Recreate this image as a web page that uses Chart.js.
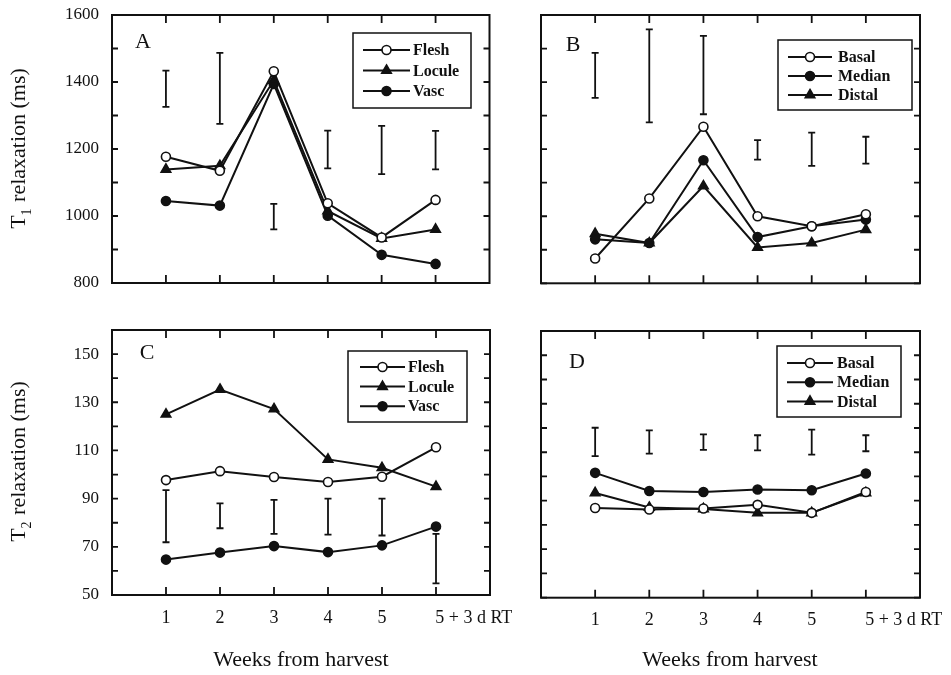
<!DOCTYPE html>
<html><head><meta charset="utf-8">
<script src="https://cdn.jsdelivr.net/npm/chart.js@4.4.1/dist/chart.umd.min.js"></script>
<style>
html,body{margin:0;padding:0;background:#fff;}
#wrap{position:relative;width:951px;height:675px;overflow:hidden;background:#fff;}
canvas{position:absolute;}
</style></head><body>
<div id="wrap">
<canvas id="cA" style="left:0px;top:0px" width="520" height="310"></canvas>
<canvas id="cB" style="left:520px;top:0px" width="431" height="310"></canvas>
<canvas id="cC" style="left:0px;top:310px" width="520" height="365"></canvas>
<canvas id="cD" style="left:520px;top:310px" width="431" height="365"></canvas>
</div>
<script>
// ---------- data ----------
const categories = ['1', '2', '3', '4', '5', '5 + 3 d RT'];
const xTitle = 'Weeks from harvest';

// Panel A: T1 by tissue
const t1Flesh  = [1177, 1135, 1432, 1038, 936, 1048];
const t1Locule = [1139, 1150, 1405, 1015, 933, 960];
const t1Vasc   = [1045, 1031, 1394, 1001, 884, 857];
const lsdA = [[1326, 1434], [1275, 1487], [960, 1036], [1142, 1255], [1125, 1269], [1139, 1254]];

// Panel B: T1 by region
const t1Basal  = [874, 1053, 1267, 1000, 970, 1006];
const t1Median = [931, 920, 1167, 938, 970, 990];
const t1Distal = [948, 920, 1090, 907, 920, 960];
const lsdB = [[1353, 1487], [1280, 1557], [1304, 1538], [1169, 1227], [1150, 1249], [1157, 1237]];

// Panel C: T2 by tissue
const t2Flesh  = [97.7, 101.4, 99.0, 96.9, 99.1, 111.3];
const t2Locule = [125.0, 135.3, 127.2, 106.3, 102.8, 95.0];
const t2Vasc   = [64.7, 67.6, 70.3, 67.8, 70.6, 78.4];
const lsdC = [[71.9, 93.5], [77.7, 88.0], [75.4, 89.5], [75.1, 90.0], [74.7, 90.0], [54.8, 75.4]];

// Panel D: T2 by region
const t2Basal  = [87.0, 86.4, 86.8, 88.3, 85.0, 93.6];
const t2Median = [101.5, 94.0, 93.6, 94.6, 94.3, 101.2];
const t2Distal = [93.2, 87.2, 86.6, 85.0, 85.0, 93.2];
const lsdD = [[108.4, 120.1], [109.4, 119.0], [111.0, 117.4], [110.8, 117.0], [109.0, 119.3], [110.4, 117.0]];

// ---------- styles ----------
const INK = '#111';
const FONT = '"Liberation Serif", "Times New Roman", serif';
const OPEN = {ps: 'circle', r: 4.5, fill: '#fff'};
const DOT = {ps: 'circle', r: 4.5, fill: INK};
const TRI = {ps: 'triangle', r: 5.5, fill: INK};
const labelPositions = [1, 2, 3, 4, 5, 6.7];

function ds(label, values, st) {
  return {
    label, data: values.map((v, i) => ({x: i + 1, y: v})),
    borderColor: INK, borderWidth: 2, tension: 0, fill: false,
    pointStyle: st.ps, pointRadius: st.r, pointBackgroundColor: st.fill,
    pointBorderColor: INK, pointBorderWidth: 1.6, _st: st
  };
}

function marker(ctx, st, x, y) {
  ctx.save();
  ctx.fillStyle = st.fill; ctx.strokeStyle = INK; ctx.lineWidth = 1.6;
  ctx.beginPath();
  if (st.ps === 'circle') {
    ctx.arc(x, y, st.r, 0, Math.PI * 2);
  } else {
    let rad = 0;
    ctx.moveTo(x + Math.sin(rad) * st.r, y - Math.cos(rad) * st.r);
    rad += 2 * Math.PI / 3; ctx.lineTo(x + Math.sin(rad) * st.r, y - Math.cos(rad) * st.r);
    rad += 2 * Math.PI / 3; ctx.lineTo(x + Math.sin(rad) * st.r, y - Math.cos(rad) * st.r);
    ctx.closePath();
  }
  ctx.fill(); ctx.stroke();
  ctx.restore();
}

const deco = {
  id: 'deco',
  beforeDatasetsDraw(chart, args, o) {
    const {ctx, scales: {x, y}} = chart;
    ctx.save();
    ctx.strokeStyle = INK; ctx.lineWidth = 1.8;
    o.lsd.forEach(([lo, hi], i) => {
      const px = x.getPixelForValue(i + 1);
      const p1 = y.getPixelForValue(lo), p2 = y.getPixelForValue(hi);
      ctx.beginPath();
      ctx.moveTo(px, p1); ctx.lineTo(px, p2);
      ctx.moveTo(px - 3.5, p1); ctx.lineTo(px + 3.5, p1);
      ctx.moveTo(px - 3.5, p2); ctx.lineTo(px + 3.5, p2);
      ctx.stroke();
    });
    ctx.restore();
  },
  afterDraw(chart, args, o) {
    const {ctx, chartArea: ca, scales: {x, y}} = chart;
    ctx.save();
    ctx.strokeStyle = INK; ctx.fillStyle = INK;
    // frame
    ctx.lineWidth = 2;
    ctx.strokeRect(ca.left, ca.top, ca.right - ca.left, ca.bottom - ca.top);
    // inner ticks
    ctx.lineWidth = 1.8;
    ctx.beginPath();
    y.ticks.forEach(t => {
      const py = y.getPixelForValue(t.value);
      ctx.moveTo(ca.left, py); ctx.lineTo(ca.left + 6, py);
      ctx.moveTo(ca.right, py); ctx.lineTo(ca.right - 6, py);
    });
    categories.forEach((c, i) => {
      const px = x.getPixelForValue(i + 1);
      ctx.moveTo(px, ca.top); ctx.lineTo(px, ca.top + 8);
      ctx.moveTo(px, ca.bottom); ctx.lineTo(px, ca.bottom - 8);
    });
    ctx.stroke();
    // panel letter
    ctx.font = '22px ' + FONT;
    ctx.textAlign = 'center'; ctx.textBaseline = 'middle';
    ctx.fillText(o.letter, o.letterX, o.letterY);
    // legend
    const L = o.legend;
    ctx.lineWidth = 1.5;
    ctx.strokeRect(L.x, L.y, L.w, L.h);
    ctx.font = 'bold 16px ' + FONT;
    ctx.textAlign = 'left'; ctx.textBaseline = 'middle';
    chart.data.datasets.forEach((d, i) => {
      const ry = L.y + L.first + i * L.step;
      ctx.lineWidth = 2;
      ctx.beginPath(); ctx.moveTo(L.x + L.l0, ry); ctx.lineTo(L.x + L.l1, ry); ctx.stroke();
      marker(ctx, d._st, L.x + (L.l0 + L.l1) / 2, ry);
      ctx.fillText(d.label, L.x + L.tx, ry + 1);
    });
    // y title with subscript
    if (o.yTitle) {
      const t = o.yTitle, size = 22;
      ctx.save();
      ctx.translate(t.x, t.y); ctx.rotate(-Math.PI / 2);
      const f1 = size + 'px ' + FONT, f2 = '14px ' + FONT;
      ctx.font = f1; const w1 = ctx.measureText(t.main).width, w3 = ctx.measureText(t.rest).width;
      ctx.font = f2; const w2 = ctx.measureText(t.sub).width;
      let x0 = -(w1 + w2 + w3) / 2;
      ctx.textAlign = 'left'; ctx.textBaseline = 'alphabetic';
      const base = 7;
      ctx.font = f1; ctx.fillText(t.main, x0, base);
      ctx.font = f2; ctx.fillText(t.sub, x0 + w1, base + 6);
      ctx.font = f1; ctx.fillText(t.rest, x0 + w1 + w2 + 1, base);
      ctx.restore();
    }
    // x title
    if (o.xTitle) {
      ctx.font = '22px ' + FONT;
      ctx.textAlign = 'center'; ctx.textBaseline = 'middle';
      ctx.fillText(xTitle, o.xTitle.x, o.xTitle.y);
    }
    ctx.restore();
  }
};

function makeChart(id, sets, cfg) {
  new Chart(document.getElementById(id), {
    type: 'line',
    data: {datasets: sets},
    plugins: [deco],
    options: {
      responsive: false, animation: false, events: [],
      layout: {padding: cfg.pad},
      plugins: {legend: {display: false}, tooltip: {enabled: false}, deco: cfg.deco},
      scales: {
        x: {
          type: 'linear', min: 0, max: 7,
          grid: {display: false, drawTicks: false}, border: {display: false},
          afterBuildTicks: s => { s.ticks = labelPositions.map(v => ({value: v})); },
          afterFit: s => { s.height = cfg.xH; s.paddingLeft = 0; s.paddingRight = 0; },
          ticks: {
            display: cfg.xLabels, autoSkip: false, maxRotation: 0, minRotation: 0, padding: 12,
            color: INK, font: {family: FONT, size: 18},
            callback: (v, i) => categories[i]
          }
        },
        y: {
          min: cfg.yMin, max: cfg.yMax,
          grid: {display: false, drawTicks: false}, border: {display: false},
          afterFit: s => { s.width = cfg.yW; s.paddingTop = 0; s.paddingBottom = 0; },
          ticks: {
            display: cfg.yLabels, stepSize: cfg.yStep, padding: 13,
            color: INK, font: {family: FONT, size: 17},
            callback: v => ((v - cfg.yMin) % cfg.yLabelStep === 0 ? String(v) : '')
          }
        }
      }
    }
  });
}

makeChart('cA', [ds('Flesh', t1Flesh, OPEN), ds('Locule', t1Locule, TRI), ds('Vasc', t1Vasc, DOT)], {
  pad: {left: 0, top: 15, right: 30.5, bottom: 0}, xH: 27, yW: 112,
  xLabels: false, yLabels: true, yMin: 800, yMax: 1600, yStep: 100, yLabelStep: 200,
  deco: {lsd: lsdA, letter: 'A', letterX: 143, letterY: 42,
    legend: {x: 353, y: 33, w: 118, h: 75, first: 17, step: 20.5, l0: 10, l1: 57, tx: 60},
    yTitle: {x: 18, y: 149, main: 'T', sub: '1', rest: ' relaxation (ms)'}}
});
makeChart('cB', [ds('Basal', t1Basal, OPEN), ds('Median', t1Median, DOT), ds('Distal', t1Distal, TRI)], {
  pad: {left: 0, top: 15, right: 31, bottom: 0}, xH: 26.7, yW: 21,
  xLabels: false, yLabels: false, yMin: 800, yMax: 1600, yStep: 100, yLabelStep: 200,
  deco: {lsd: lsdB, letter: 'B', letterX: 53, letterY: 45,
    legend: {x: 258, y: 40, w: 134, h: 70, first: 17, step: 19, l0: 10, l1: 54, tx: 60}}
});
makeChart('cC', [ds('Flesh', t2Flesh, OPEN), ds('Locule', t2Locule, TRI), ds('Vasc', t2Vasc, DOT)], {
  pad: {left: 0, top: 20, right: 30, bottom: 0}, xH: 80, yW: 112,
  xLabels: true, yLabels: true, yMin: 50, yMax: 160, yStep: 10, yLabelStep: 20,
  deco: {lsd: lsdC, letter: 'C', letterX: 147, letterY: 43,
    legend: {x: 348, y: 41, w: 119, h: 71, first: 16, step: 19.6, l0: 12, l1: 57, tx: 60},
    yTitle: {x: 18, y: 152, main: 'T', sub: '2', rest: ' relaxation (ms)'},
    xTitle: {x: 301, y: 350}}
});
makeChart('cD', [ds('Basal', t2Basal, OPEN), ds('Median', t2Median, DOT), ds('Distal', t2Distal, TRI)], {
  pad: {left: 0, top: 21, right: 31, bottom: 0}, xH: 77.3, yW: 21,
  xLabels: true, yLabels: false, yMin: 50, yMax: 160, yStep: 10, yLabelStep: 20,
  deco: {lsd: lsdD, letter: 'D', letterX: 57, letterY: 52,
    legend: {x: 257, y: 36, w: 124, h: 71, first: 17, step: 19.2, l0: 10, l1: 56, tx: 60},
    xTitle: {x: 210, y: 350}}
});
</script>
</body></html>
